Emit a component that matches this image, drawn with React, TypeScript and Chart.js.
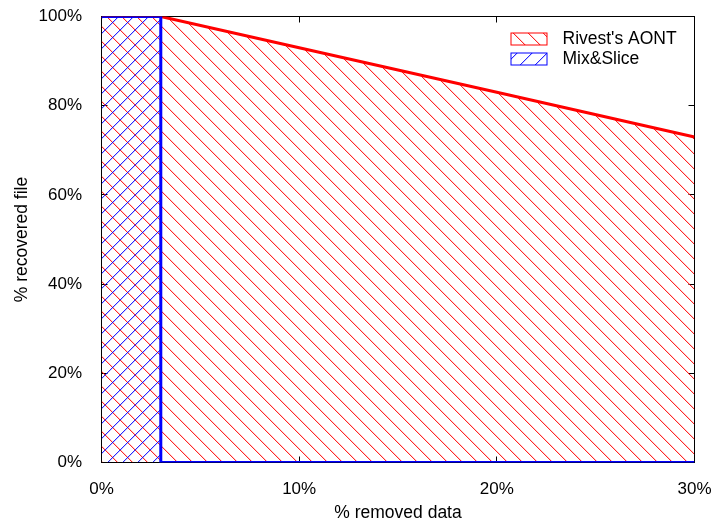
import { useEffect, useRef } from "react";
import { Chart, registerables } from "chart.js";

Chart.register(...registerables);

// Share of removed data (%) and share of the file that can still be recovered (%)
const aontRemoved = [0, 3, 10, 20, 30];
const aontRecovered = [100, 100, 93, 83, 73];
const mixRemoved = [0, 3, 3, 30];
const mixRecovered = [100, 100, 0, 0];

const seriesNames = ["Rivest's AONT", "Mix&Slice"];
const seriesRGB: [number, number, number][] = [
  [255, 0, 0],
  [0, 0, 255],
];

const xTicks = [0, 10, 20, 30];
const yTicks = [0, 20, 40, 60, 80, 100];

const xTitle = "% removed data";
const yTitle = "% recovered file";

const FONT_FAMILY = "'Liberation Sans', Arial, Helvetica, sans-serif";
const TICK_SIZE = 17;
const TEXT_SIZE = 17.5;

const rgb = (c: [number, number, number]) => `rgb(${c[0]},${c[1]},${c[2]})`;

// Pixel-drawn diagonal hatch tile: dir 1 gives "\" strokes, dir -1 gives "/" strokes
function hatch(c: [number, number, number], dir: 1 | -1, size = 15): CanvasPattern | string {
  const cv = document.createElement("canvas");
  cv.width = size;
  cv.height = size;
  const g = cv.getContext("2d");
  if (!g) return rgb(c);
  const img = g.createImageData(size, size);
  const put = (x: number, y: number, a: number) => {
    const xx = ((x % size) + size) % size;
    const yy = ((y % size) + size) % size;
    const k = (yy * size + xx) * 4;
    img.data[k] = c[0];
    img.data[k + 1] = c[1];
    img.data[k + 2] = c[2];
    img.data[k + 3] = Math.max(img.data[k + 3], Math.round(a * 255));
  };
  for (let i = 0; i < size; i++) {
    const y = dir === 1 ? i : size - 1 - i;
    put(i, y, 0.85);
    put(i + 1, y, 0.2);
  }
  g.putImageData(img, 0, 0);
  return g.createPattern(cv, "repeat") ?? rgb(c);
}

// Plot frame with inward ticks on all four sides (under the data), then the in-plot key
const framePlugin = {
  id: "frame",
  beforeDatasetsDraw(chart: any) {
    const { ctx, chartArea: a, scales } = chart;
    const xs = scales.x;
    const ys = scales.y;
    const tick = 6;
    ctx.save();
    ctx.strokeStyle = "#000";
    ctx.lineWidth = 1;
    ctx.beginPath();
    for (const v of xTicks) {
      const px = Math.round(xs.getPixelForValue(v) - 0.5) + 0.5;
      ctx.moveTo(px, a.bottom);
      ctx.lineTo(px, a.bottom - tick);
      ctx.moveTo(px, a.top);
      ctx.lineTo(px, a.top + tick);
    }
    for (const v of yTicks) {
      const py = Math.round(ys.getPixelForValue(v) - 0.5) + 0.5;
      ctx.moveTo(a.left, py);
      ctx.lineTo(a.left + tick, py);
      ctx.moveTo(a.right, py);
      ctx.lineTo(a.right - tick, py);
    }
    ctx.stroke();
    ctx.strokeRect(a.left, a.top, a.right - a.left, a.bottom - a.top);
    ctx.restore();
  },
  afterDatasetsDraw(chart: any) {
    const { ctx, chartArea: a } = chart;
    const boxW = 36;
    const boxH = 12;
    const boxLeft = a.right - 183.5;
    const firstTop = a.top + 16.5;
    const rowGap = 20;
    ctx.save();
    ctx.font = `${TEXT_SIZE}px ${FONT_FAMILY}`;
    ctx.textBaseline = "middle";
    ctx.textAlign = "left";
    chart.data.datasets.forEach((ds: any, i: number) => {
      const top = firstTop + i * rowGap;
      ctx.fillStyle = ds.backgroundColor;
      ctx.fillRect(boxLeft, top, boxW, boxH);
      ctx.strokeStyle = ds.borderColor;
      ctx.lineWidth = 1;
      ctx.strokeRect(boxLeft, top, boxW, boxH);
      ctx.fillStyle = "#000";
      ctx.fillText(ds.label, boxLeft + boxW + 15.5, top + boxH / 2 + 0.5);
    });
    ctx.restore();
  },
};

export default function App() {
  const ref = useRef<HTMLCanvasElement | null>(null);

  useEffect(() => {
    if (!ref.current) return;
    const tickFont = { family: FONT_FAMILY, size: TICK_SIZE };
    const titleFont = { family: FONT_FAMILY, size: TEXT_SIZE };
    const chart = new Chart(ref.current, {
      type: "line",
      data: {
        datasets: [
          {
            label: seriesNames[0],
            data: aontRemoved.map((x, i) => ({ x, y: aontRecovered[i] })),
            borderColor: rgb(seriesRGB[0]),
            backgroundColor: hatch(seriesRGB[0], 1),
            borderWidth: 3,
            pointRadius: 0,
            tension: 0,
            fill: "origin",
            order: 1,
          },
          {
            label: seriesNames[1],
            data: mixRemoved.map((x, i) => ({ x, y: mixRecovered[i] })),
            borderColor: rgb(seriesRGB[1]),
            backgroundColor: hatch(seriesRGB[1], -1),
            borderWidth: 3,
            pointRadius: 0,
            tension: 0,
            fill: "origin",
            order: 0,
          },
        ],
      },
      options: {
        responsive: false,
        animation: false,
        devicePixelRatio: 1,
        layout: { padding: { left: 0, top: 16.5, right: 18.5, bottom: 0 } },
        plugins: {
          legend: { display: false },
          tooltip: { enabled: false },
        },
        scales: {
          x: {
            type: "linear",
            min: 0,
            max: 30,
            afterBuildTicks: (s: any) => {
              s.ticks = xTicks.map((value) => ({ value }));
            },
            afterFit: (s: any) => {
              s.height = 62.5;
              s.paddingLeft = 0;
              s.paddingRight = 0;
            },
            grid: { display: false, drawTicks: false, tickLength: 0 },
            border: { display: false },
            ticks: {
              callback: (v: any) => `${v}%`,
              font: tickFont,
              color: "#000",
              padding: 16.8,
              maxRotation: 0,
              autoSkip: false,
            },
            title: {
              display: true,
              text: xTitle,
              font: titleFont,
              color: "#000",
              padding: { top: 0, bottom: 1.5 },
            },
          },
          y: {
            type: "linear",
            min: 0,
            max: 100,
            afterBuildTicks: (s: any) => {
              s.ticks = yTicks.map((value) => ({ value }));
            },
            afterFit: (s: any) => {
              s.width = 101.5;
              s.paddingTop = 0;
              s.paddingBottom = 0;
            },
            grid: { display: false, drawTicks: false, tickLength: 0 },
            border: { display: false },
            ticks: {
              callback: (v: any) => `${v}%`,
              font: tickFont,
              color: "#000",
              padding: 19.5,
              autoSkip: false,
            },
            title: {
              display: true,
              text: yTitle,
              font: titleFont,
              color: "#000",
              padding: { top: 11.2, bottom: 0 },
            },
          },
        },
      },
      plugins: [framePlugin],
    } as any);
    return () => chart.destroy();
  }, []);

  return (
    <div style={{ position: "fixed", left: 0, top: 0, width: 713, height: 525, background: "#fff" }}>
      <canvas ref={ref} width={713} height={525} />
    </div>
  );
}
